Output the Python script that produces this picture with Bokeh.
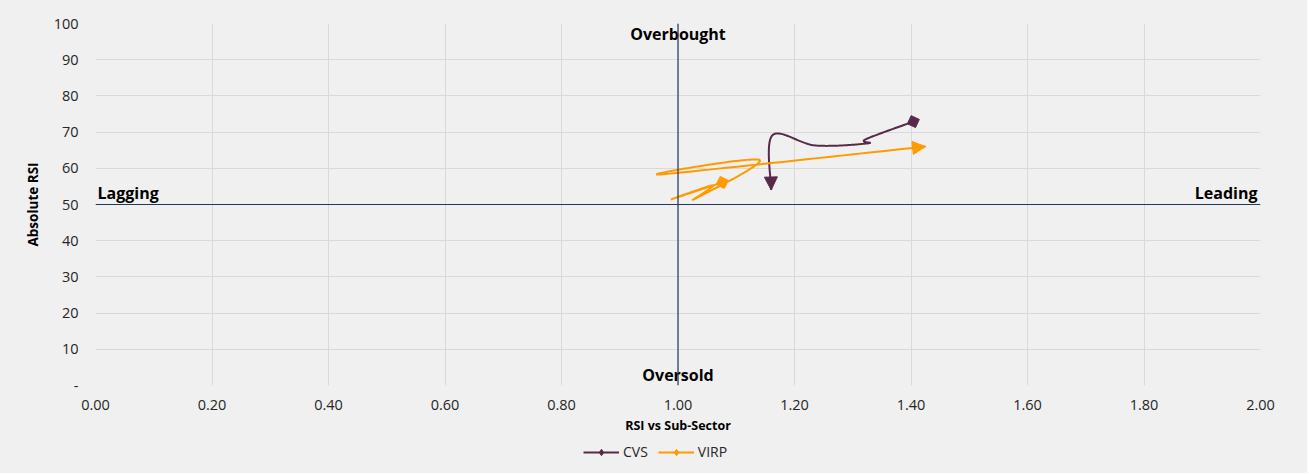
import numpy as np
from bokeh.plotting import figure
from bokeh.layouts import column
from bokeh.models import (Span, Arrow, NormalHead, Legend, LegendItem, ColumnDataSource,
                          FixedTicker, Range1d)
from bokeh.core.properties import value
from bokeh.embed import file_html
from bokeh.resources import INLINE

# ---------------- data ----------------
cvs_x = [1.404, 1.322, 1.326, 1.236, 1.162, 1.160]
cvs_y = [72.9, 68.0, 66.9, 66.3, 69.1, 54.0]

virp_x = [1.076, 0.988, 1.060, 1.027, 1.140, 0.970, 1.425]
virp_y = [56.1, 51.4, 55.3, 51.4, 62.3, 58.3, 66.0]

x_ticks = [0.0, 0.2, 0.4, 0.6, 0.8, 1.0, 1.2, 1.4, 1.6, 1.8, 2.0]
y_ticks = [0, 10, 20, 30, 40, 50, 60, 70, 80, 90, 100]

quad_labels = ["Overbought", "Oversold", "Lagging", "Leading"]
quad_x = [1.0, 1.0, 0.0, 2.0]
quad_y = [97.0, 2.8, 50.0, 50.0]

series_names = ["CVS", "VIRP"]
series_colors = ["#572A4A", "#FF9A00"]

FONT = "Open Sans"
BG = "#F0F0F0"
FRAME_W, FRAME_H = 1165, 362
X_RANGE, Y_RANGE = (0, 2), (0, 100)


def smooth(xs, ys, n=40):
    """Excel-like smoothed line (Catmull-Rom Bezier) in screen-proportional space."""
    sx = FRAME_W / (X_RANGE[1] - X_RANGE[0])
    sy = FRAME_H / (Y_RANGE[1] - Y_RANGE[0])
    P = np.column_stack([np.asarray(xs) * sx, np.asarray(ys) * sy])
    ext = np.vstack([P[0], P, P[-1]])
    out = []
    t = np.linspace(0, 1, n)[:, None]
    for i in range(1, len(ext) - 2):
        p0, p1, p2, p3 = ext[i - 1], ext[i], ext[i + 1], ext[i + 2]
        c1 = p1 + (p2 - p0) / 6.0
        c2 = p2 - (p3 - p1) / 6.0
        seg = ((1 - t) ** 3) * p1 + 3 * ((1 - t) ** 2) * t * c1 + 3 * (1 - t) * t ** 2 * c2 + t ** 3 * p2
        out.append(seg if i == 1 else seg[1:])
    C = np.vstack(out)
    return C[:, 0] / sx, C[:, 1] / sy, sx, sy


p = figure(frame_width=FRAME_W, frame_height=FRAME_H,
           x_range=Range1d(*X_RANGE), y_range=Range1d(*Y_RANGE),
           output_backend="svg", toolbar_location=None,
           min_border_left=95, min_border_right=47, min_border_top=23, min_border_bottom=55,
           background_fill_color=BG, border_fill_color=BG, styles={"background-color": BG})
p.outline_line_color = None

p.xaxis.ticker = FixedTicker(ticks=x_ticks)
p.yaxis.ticker = FixedTicker(ticks=y_ticks)
p.xaxis.major_label_overrides = {t: f"{t:.2f}" for t in x_ticks}
p.yaxis.major_label_overrides = {0: "-"}
for ax in (p.xaxis[0], p.yaxis[0]):
    ax.axis_line_color = None
    ax.major_tick_line_color = None
    ax.minor_tick_line_color = None
    ax.major_tick_out = 0
    ax.major_tick_in = 0
    ax.minor_tick_out = 0
    ax.major_label_text_font = FONT
    ax.major_label_text_font_size = "14.5px"
    ax.major_label_text_color = "#262626"
    ax.axis_label_text_font = FONT
    ax.axis_label_text_font_style = "bold"
    ax.axis_label_text_color = "#000000"
p.xaxis.axis_label = "RSI vs Sub-Sector"
p.yaxis.axis_label = "Absolute RSI"
p.xaxis.major_label_standoff = 14
p.yaxis.major_label_standoff = 17
p.xaxis.axis_label_standoff = 4
p.yaxis.axis_label_standoff = 9
p.xaxis.axis_label_text_font_size = "12.5px"
p.yaxis.axis_label_text_font_size = "13.5px"

p.xgrid.grid_line_color = "#D9D9D9"
p.ygrid.grid_line_color = "#D9D9D9"

p.add_layout(Span(location=1.0, dimension="height", line_color="#1F3A5F", line_width=1.2))
p.add_layout(Span(location=50.0, dimension="width", line_color="#1F3A5F", line_width=1.2))

# quadrant labels
src_q = ColumnDataSource(dict(x=quad_x, y=quad_y, t=quad_labels,
                              align=["center", "center", "left", "right"],
                              xo=[0, 0, 2, -3], yo=[0, 0, -12, -12]))
p.text(x="x", y="y", text="t", source=src_q, text_align="align", text_baseline="middle",
       x_offset="xo", y_offset="yo",
       text_font=value(FONT), text_font_size="16px", text_font_style="bold", text_color="#000000")

# legend strip (separate figure below the chart)
leg_fig = figure(frame_width=FRAME_W, frame_height=33,
                 x_range=Range1d(0, 1), y_range=Range1d(0, 1),
                 output_backend="svg", toolbar_location=None,
                 x_axis_location=None, y_axis_location=None,
                 min_border_left=95, min_border_right=47, min_border_top=0, min_border_bottom=0,
                 background_fill_color=BG, border_fill_color=BG, styles={"background-color": BG})
leg_fig.outline_line_color = None
leg_fig.xgrid.visible = False
leg_fig.ygrid.visible = False

legend_items = []
series = [(cvs_x, cvs_y), (virp_x, virp_y)]
for (xs, ys), name, col in zip(series, series_names, series_colors):
    cx, cy, sx, sy = smooth(xs, ys)
    p.line(cx, cy, line_color=col, line_width=2)
    # start diamond, oriented along line
    ang = np.arctan2((cy[1] - cy[0]) * sy, (cx[1] - cx[0]) * sx) + np.pi / 4
    p.scatter([xs[0]], [ys[0]], marker="square", size=9, angle=ang, fill_color=col, line_color=col)
    # end arrow
    k = -4
    p.add_layout(Arrow(x_start=cx[k], y_start=cy[k], x_end=xs[-1], y_end=ys[-1],
                       line_color=col, line_width=2,
                       end=NormalHead(size=13, fill_color=col, line_color=col)))
    # legend proxies (drawn outside the visible range)
    lr = leg_fig.line([-5, -4], [-5, -4], line_color=col, line_width=2)
    sr = leg_fig.scatter([-5], [-5], marker="diamond", size=11, fill_color=col, line_color=col)
    legend_items.append(LegendItem(label=name, renderers=[lr, sr]))

legend = Legend(items=legend_items, orientation="horizontal", location=(488, 12),
                background_fill_alpha=0, border_line_color=None,
                label_text_font=FONT, label_text_font_size="14px", label_text_color="#262626",
                glyph_width=36, glyph_height=16, label_height=16,
                spacing=10, padding=2, margin=0, label_standoff=4)
leg_fig.add_layout(legend, "center")

layout = column(p, leg_fig, spacing=0, styles={"background-color": BG})
open("out.html", "w").write(file_html(layout, INLINE))
